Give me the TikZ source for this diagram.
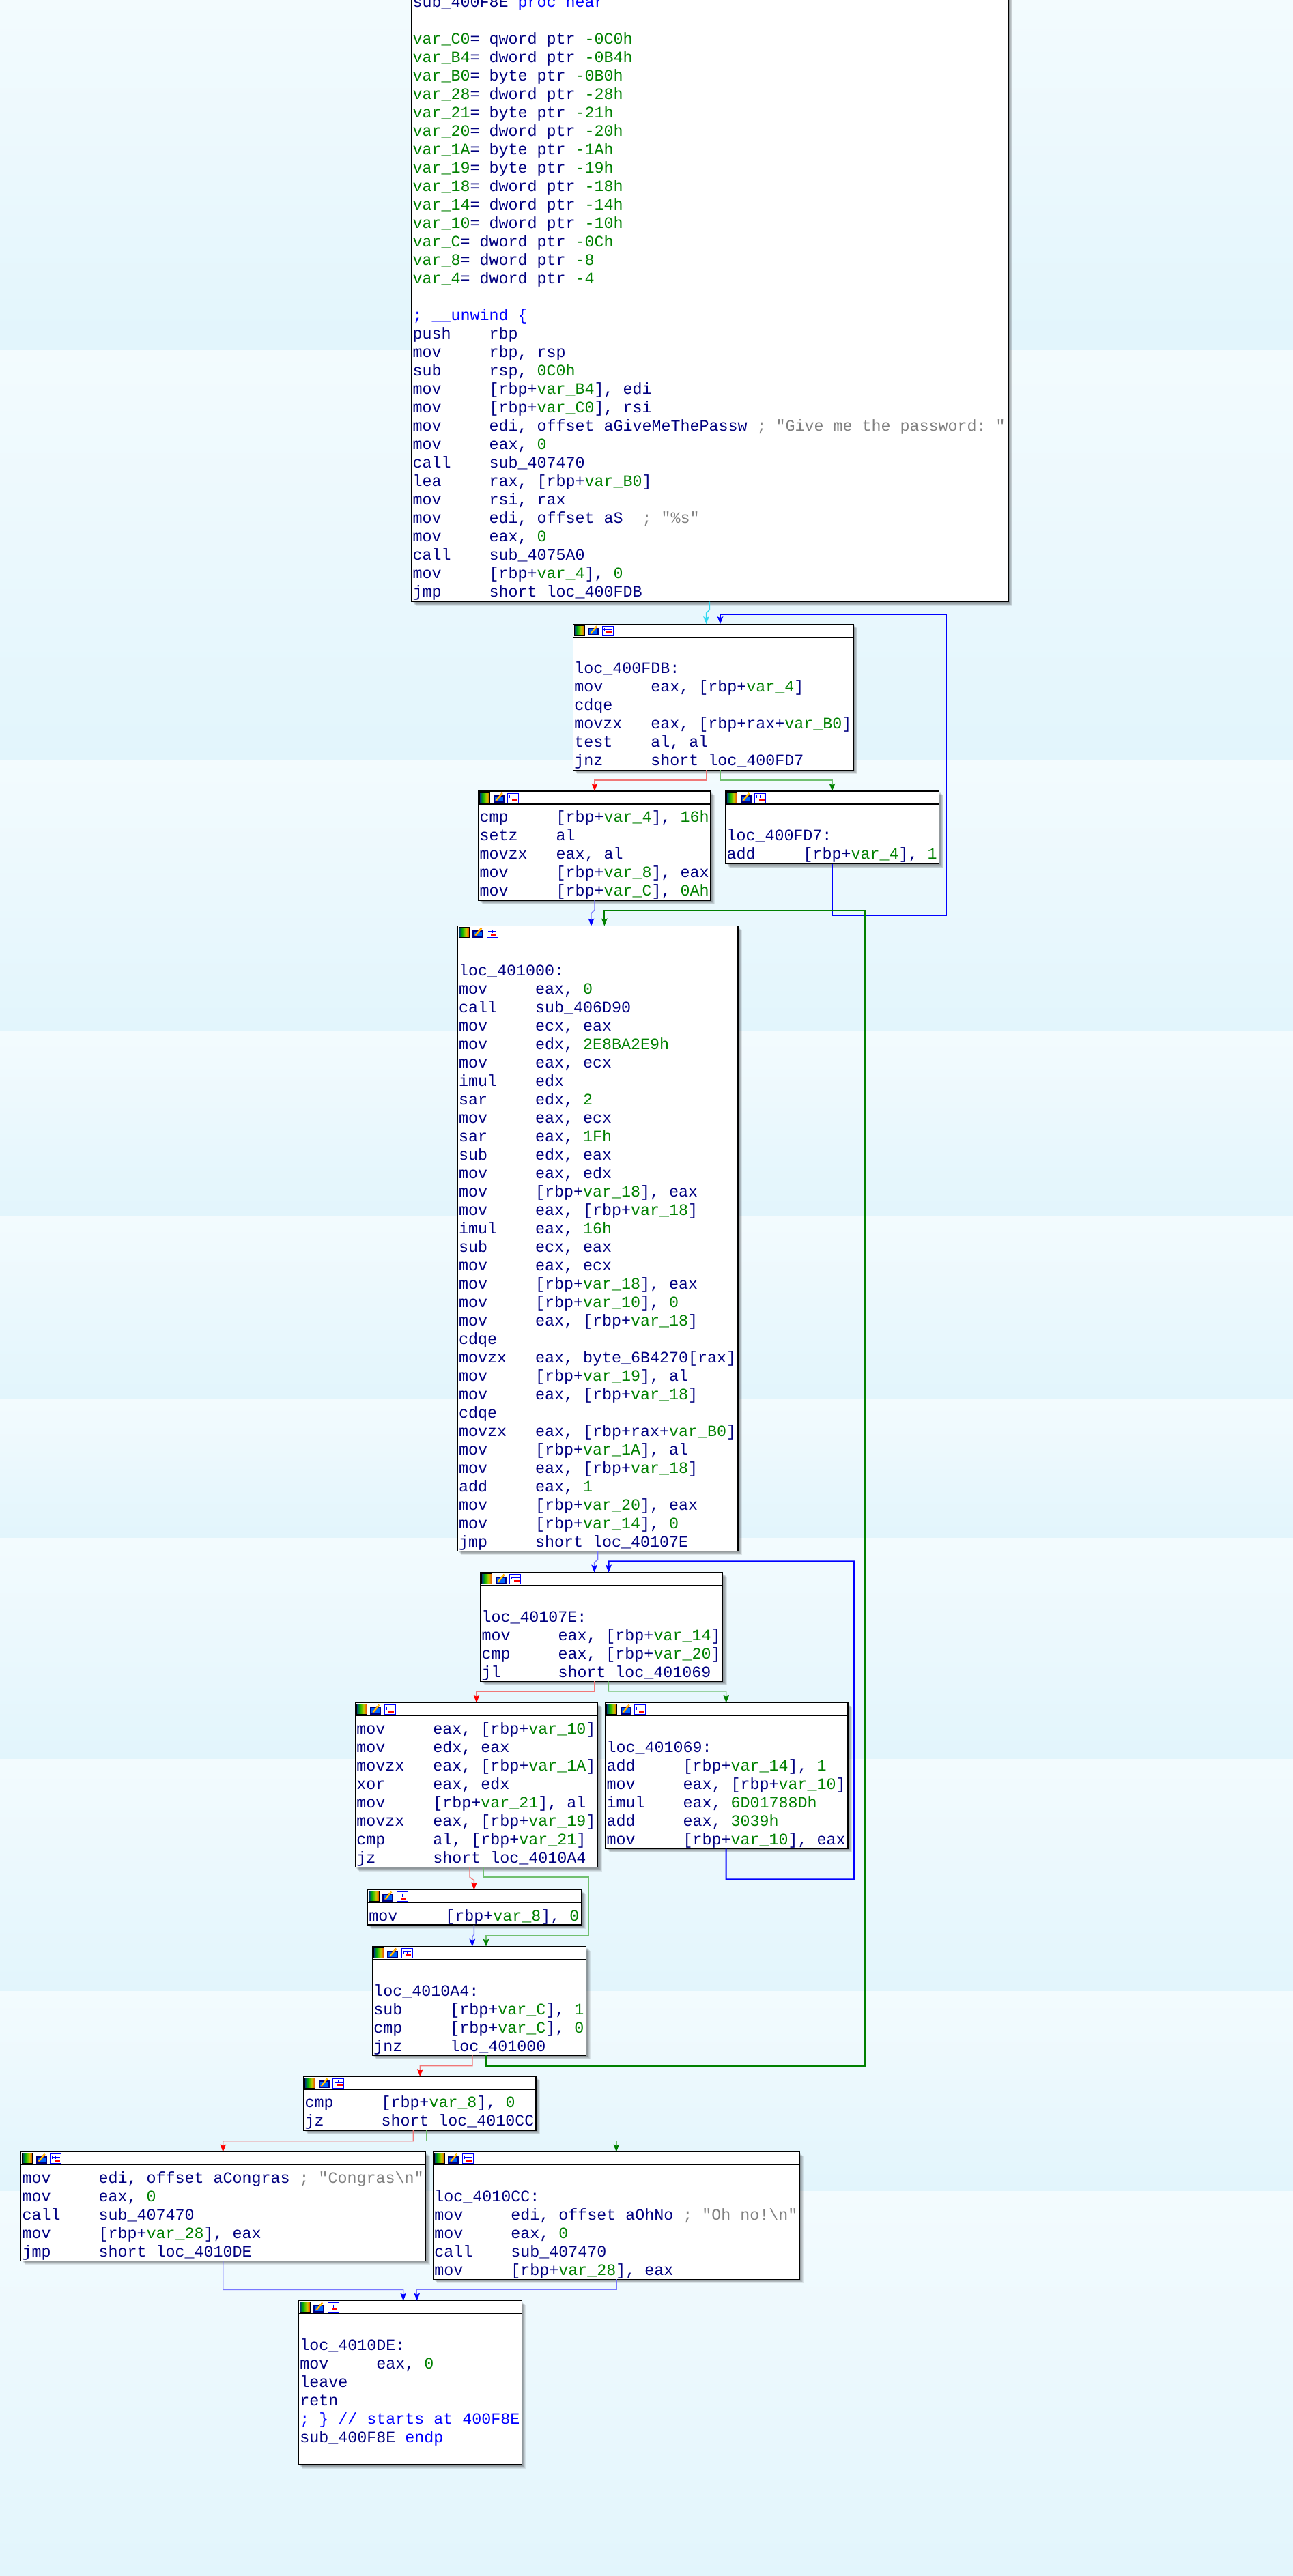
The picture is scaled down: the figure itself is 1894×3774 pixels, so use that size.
\documentclass[tikz,border=0pt]{standalone}
\usepackage{fontspec}
\newfontfamily\code{Liberation Mono}
\usetikzlibrary{arrows.meta}
\definecolor{cnavy}{HTML}{000080}
\definecolor{cgreen}{HTML}{008000}
\definecolor{cgrey}{HTML}{808080}
\definecolor{cblue}{HTML}{0000FF}
\definecolor{lred}{HTML}{F07878}
\definecolor{lgreen}{HTML}{70C070}
\definecolor{lblue}{HTML}{7878FF}
\definecolor{ccyan}{HTML}{30D8F0}
\definecolor{bgtop}{HTML}{F3FBFE}
\definecolor{bgbot}{HTML}{E2F5FC}
\pgfdeclarehorizontalshading{rainbow}{100bp}{color(0bp)=(black); color(20bp)=(blue!70!black); color(40bp)=(green!70!black); color(60bp)=(yellow!80!black); color(80bp)=(red); color(100bp)=(magenta)}
\newcommand\cG[1]{\textcolor{cgreen}{#1}}
\newcommand\cY[1]{\textcolor{cgrey}{#1}}
\newcommand\cK[1]{\textcolor{cblue}{#1}}
\newcommand\cI[2]{\makebox[112pt][l]{#1}#2}
\newcommand\cL{\vrule height 22.5pt depth 4.5pt width 0pt\relax}
\newcommand\codefont{\code\fontsize{23.33}{27}\selectfont\frenchspacing\lineskiplimit=-100pt\relax\lineskip=0pt\relax}
\tikzset{
  box/.style={draw=black, line width=1.5pt, fill=white, anchor=north west, inner sep=0pt, outer sep=0pt},
  hdr/.style={draw=black, line width=1.2pt},
  codetext/.style={font={\codefont}, text=cnavy, align=left, inner sep=0pt, outer sep=0pt, anchor=north west},
  redE/.style={draw=lred, line width=1.4pt, -{Stealth[length=11pt,width=8.5pt,inset=2pt,color=red]}},
  greenE/.style={draw=lgreen, line width=1.4pt, -{Stealth[length=11pt,width=8.5pt,inset=2pt,color=cgreen]}},
  blueE/.style={draw=lblue, line width=1.4pt, -{Stealth[length=11pt,width=8.5pt,inset=2pt,color=cblue]}},
  cyanE/.style={draw=ccyan, line width=1.4pt, -{Stealth[length=11pt,width=8.5pt,inset=2pt,color=ccyan]}},
  blueT/.style={draw=cblue, line width=2pt, -{Stealth[length=11pt,width=8.5pt,inset=2pt,color=cblue]}},
  greenT/.style={draw=cgreen, line width=2pt, -{Stealth[length=11pt,width=8.5pt,inset=2pt,color=cgreen]}},
}
\newcommand\icons[2]{%
  \shade[shading=rainbow] (#1+2,#2+2) rectangle (#1+17,#2+17);
  \draw[black,line width=1pt] (#1+2,#2+2) rectangle (#1+17,#2+17);
  \fill[cnavy] (#1+22,#2+6) rectangle (#1+38,#2+17);
  \fill[cblue!60!cyan] (#1+24,#2+8) rectangle (#1+36,#2+15);
  \draw[line width=2.6pt,orange] (#1+26,#2+14) -- (#1+35,#2+3);
  \draw[line width=1pt,yellow] (#1+26.5,#2+13) -- (#1+35,#2+3);
  \filldraw[fill=white,draw=cblue,line width=1pt] (#1+43,#2+3) rectangle (#1+59,#2+17);
  \draw[cblue,line width=1pt] (#1+45,#2+8) -- (#1+57,#2+8) (#1+46,#2+6) -- (#1+46,#2+10) (#1+51,#2+6) -- (#1+51,#2+10);
  \fill[red] (#1+49,#2+11) rectangle (#1+57,#2+14);
}
\newcommand\blk[6]{%
  \foreach \sh in {2,3,4,5,6} \fill[black,opacity=.09] (#2+\sh,#3+\sh) rectangle (#2+#4+\sh,#3+#5+\sh);
  \node[box, minimum width=#4pt, minimum height=#5pt] (#1) at (#2,#3) {};
  \draw[hdr] (#2,#3+19) -- (#2+#4,#3+19);
  \icons{#2}{#3}
  \node[codetext] (#1t) at (#2+2,#3+23) {#6};
}
\begin{document}
\begin{tikzpicture}[x=1pt,y=-1pt]
\useasboundingbox (0,0) rectangle (1894,3774);
\fill[bgbot] (0,0) rectangle (1894,3774);
\foreach \a/\b in {0/513,513/1113,1113/1510,1510/1782,1782/2050,2050/2253,2253/2577,2577/2917,2917/3210,3210/3774}
  \shade[top color=bgtop,bottom color=bgbot] (0,\a) rectangle (1894,\b);

\blk{T}{602.6}{-62}{874.4}{943.5}{\cL\\
\cL sub\_400F8E \cK{proc near}\\
\cL\\
\cL\cG{var\_C0}= qword ptr \cG{-0C0h}\\
\cL\cG{var\_B4}= dword ptr \cG{-0B4h}\\
\cL\cG{var\_B0}= byte ptr \cG{-0B0h}\\
\cL\cG{var\_28}= dword ptr \cG{-28h}\\
\cL\cG{var\_21}= byte ptr \cG{-21h}\\
\cL\cG{var\_20}= dword ptr \cG{-20h}\\
\cL\cG{var\_1A}= byte ptr \cG{-1Ah}\\
\cL\cG{var\_19}= byte ptr \cG{-19h}\\
\cL\cG{var\_18}= dword ptr \cG{-18h}\\
\cL\cG{var\_14}= dword ptr \cG{-14h}\\
\cL\cG{var\_10}= dword ptr \cG{-10h}\\
\cL\cG{var\_C}= dword ptr \cG{-0Ch}\\
\cL\cG{var\_8}= dword ptr \cG{-8}\\
\cL\cG{var\_4}= dword ptr \cG{-4}\\
\cL\\
\cL\cK{; \_\_unwind \{}\\
\cL\cI{push}{rbp}\\
\cL\cI{mov}{rbp, rsp}\\
\cL\cI{sub}{rsp, \cG{0C0h}}\\
\cL\cI{mov}{[rbp+\cG{var\_B4}], edi}\\
\cL\cI{mov}{[rbp+\cG{var\_C0}], rsi}\\
\cL\cI{mov}{edi, offset aGiveMeThePassw \cY{; "Give me the password: "}}\\
\cL\cI{mov}{eax, \cG{0}}\\
\cL\cI{call}{sub\_407470}\\
\cL\cI{lea}{rax, [rbp+\cG{var\_B0}]}\\
\cL\cI{mov}{rsi, rax}\\
\cL\cI{mov}{edi, offset aS\ \ \cY{; "\%s"}}\\
\cL\cI{mov}{eax, \cG{0}}\\
\cL\cI{call}{sub\_4075A0}\\
\cL\cI{mov}{[rbp+\cG{var\_4}], \cG{0}}\\
\cL\cI{jmp}{short loc\_400FDB}}

\blk{B1}{839.3}{914.3}{410.7}{214}{\cL\\
\cL loc\_400FDB:\\
\cL\cI{mov}{eax, [rbp+\cG{var\_4}]}\\
\cL\cI{cdqe}{}\\
\cL\cI{movzx}{eax, [rbp+rax+\cG{var\_B0}]}\\
\cL\cI{test}{al, al}\\
\cL\cI{jnz}{short loc\_400FD7}}

\blk{B2}{700.7}{1159}{340.3}{160}{\cL\cI{cmp}{[rbp+\cG{var\_4}], \cG{16h}}\\
\cL\cI{setz}{al}\\
\cL\cI{movzx}{eax, al}\\
\cL\cI{mov}{[rbp+\cG{var\_8}], eax}\\
\cL\cI{mov}{[rbp+\cG{var\_C}], \cG{0Ah}}}

\blk{B3}{1062.5}{1159}{313.1}{106.7}{\cL\\
\cL loc\_400FD7:\\
\cL\cI{add}{[rbp+\cG{var\_4}], \cG{1}}}

\blk{B4}{670.2}{1356.7}{410.8}{915.6}{\cL\\
\cL loc\_401000:\\
\cL\cI{mov}{eax, \cG{0}}\\
\cL\cI{call}{sub\_406D90}\\
\cL\cI{mov}{ecx, eax}\\
\cL\cI{mov}{edx, \cG{2E8BA2E9h}}\\
\cL\cI{mov}{eax, ecx}\\
\cL\cI{imul}{edx}\\
\cL\cI{sar}{edx, \cG{2}}\\
\cL\cI{mov}{eax, ecx}\\
\cL\cI{sar}{eax, \cG{1Fh}}\\
\cL\cI{sub}{edx, eax}\\
\cL\cI{mov}{eax, edx}\\
\cL\cI{mov}{[rbp+\cG{var\_18}], eax}\\
\cL\cI{mov}{eax, [rbp+\cG{var\_18}]}\\
\cL\cI{imul}{eax, \cG{16h}}\\
\cL\cI{sub}{ecx, eax}\\
\cL\cI{mov}{eax, ecx}\\
\cL\cI{mov}{[rbp+\cG{var\_18}], eax}\\
\cL\cI{mov}{[rbp+\cG{var\_10}], \cG{0}}\\
\cL\cI{mov}{eax, [rbp+\cG{var\_18}]}\\
\cL\cI{cdqe}{}\\
\cL\cI{movzx}{eax, byte\_6B4270[rax]}\\
\cL\cI{mov}{[rbp+\cG{var\_19}], al}\\
\cL\cI{mov}{eax, [rbp+\cG{var\_18}]}\\
\cL\cI{cdqe}{}\\
\cL\cI{movzx}{eax, [rbp+rax+\cG{var\_B0}]}\\
\cL\cI{mov}{[rbp+\cG{var\_1A}], al}\\
\cL\cI{mov}{eax, [rbp+\cG{var\_18}]}\\
\cL\cI{add}{eax, \cG{1}}\\
\cL\cI{mov}{[rbp+\cG{var\_20}], eax}\\
\cL\cI{mov}{[rbp+\cG{var\_14}], \cG{0}}\\
\cL\cI{jmp}{short loc\_40107E}}

\blk{B5}{703.5}{2303.7}{355.2}{159.6}{\cL\\
\cL loc\_40107E:\\
\cL\cI{mov}{eax, [rbp+\cG{var\_14}]}\\
\cL\cI{cmp}{eax, [rbp+\cG{var\_20}]}\\
\cL\cI{jl}{short loc\_401069}}

\blk{B6}{520.4}{2494.7}{355.2}{241}{\cL\cI{mov}{eax, [rbp+\cG{var\_10}]}\\
\cL\cI{mov}{edx, eax}\\
\cL\cI{movzx}{eax, [rbp+\cG{var\_1A}]}\\
\cL\cI{xor}{eax, edx}\\
\cL\cI{mov}{[rbp+\cG{var\_21}], al}\\
\cL\cI{movzx}{eax, [rbp+\cG{var\_19}]}\\
\cL\cI{cmp}{al, [rbp+\cG{var\_21}]}\\
\cL\cI{jz}{short loc\_4010A4}}

\blk{B7}{886.6}{2494.7}{355.2}{213.6}{\cL\\
\cL loc\_401069:\\
\cL\cI{add}{[rbp+\cG{var\_14}], \cG{1}}\\
\cL\cI{mov}{eax, [rbp+\cG{var\_10}]}\\
\cL\cI{imul}{eax, \cG{6D01788Dh}}\\
\cL\cI{add}{eax, \cG{3039h}}\\
\cL\cI{mov}{[rbp+\cG{var\_10}], eax}}

\blk{B8}{538.3}{2768.7}{313.2}{51.3}{\cL\cI{mov}{[rbp+\cG{var\_8}], \cG{0}}}

\blk{B9}{545.4}{2851.7}{313.3}{159.3}{\cL\\
\cL loc\_4010A4:\\
\cL\cI{sub}{[rbp+\cG{var\_C}], \cG{1}}\\
\cL\cI{cmp}{[rbp+\cG{var\_C}], \cG{0}}\\
\cL\cI{jnz}{loc\_401000}}

\blk{B10}{444.5}{3042.3}{340.5}{78.7}{\cL\cI{cmp}{[rbp+\cG{var\_8}], \cG{0}}\\
\cL\cI{jz}{short loc\_4010CC}}

\blk{B11}{30.6}{3152.7}{593}{159.6}{\cL\cI{mov}{edi, offset aCongras \cY{; "Congras\textbackslash n"}}\\
\cL\cI{mov}{eax, \cG{0}}\\
\cL\cI{call}{sub\_407470}\\
\cL\cI{mov}{[rbp+\cG{var\_28}], eax}\\
\cL\cI{jmp}{short loc\_4010DE}}

\blk{B12}{634.3}{3152.7}{537.1}{186.6}{\cL\\
\cL loc\_4010CC:\\
\cL\cI{mov}{edi, offset aOhNo \cY{; "Oh no!\textbackslash n"}}\\
\cL\cI{mov}{eax, \cG{0}}\\
\cL\cI{call}{sub\_407470}\\
\cL\cI{mov}{[rbp+\cG{var\_28}], eax}}

\blk{B13}{437.3}{3370.7}{327}{240}{\cL\\
\cL loc\_4010DE:\\
\cL\cI{mov}{eax, \cG{0}}\\
\cL\cI{leave}{}\\
\cL\cI{retn}{}\\
\cL\cK{; \} // starts at 400F8E}\\
\cL sub\_400F8E \cK{endp}\\
\cL}

% connectors
\draw[cyanE] ([xshift=436.9pt]T.south west) -- (1039.5,893) -- (1034.5,898) -- ([xshift=195.2pt]B1.north west);
\draw[blueT] ([xshift=156.5pt]B3.south west) -- (1219,1340.6) -- (1386,1340.6) -- (1386,900) -- (1055,900) -- ([xshift=215.7pt]B1.north west);
\draw[redE] ([xshift=195.7pt]B1.south west) -- (1035,1143) -- (871,1143) -- ([xshift=170.3pt]B2.north west);
\draw[greenE] ([xshift=215.7pt]B1.south west) -- (1055,1143) -- (1219,1143) -- ([xshift=156.5pt]B3.north west);
\draw[blueE] ([xshift=170.3pt]B2.south west) -- (871,1333) -- (866,1338) -- ([xshift=195.8pt]B4.north west);
\draw[greenT] ([xshift=166.3pt]B9.south west) -- (711.7,3026.7) -- (1267,3026.7) -- (1267,1334) -- (885.3,1334) -- ([xshift=215.1pt]B4.north west);
\draw[blueE] ([xshift=205.4pt]B4.south west) -- (875.6,2285) -- (870.6,2289) -- ([xshift=167.1pt]B5.north west);
\draw[blueT] ([xshift=177.1pt]B7.south west) -- (1063.7,2753.3) -- (1251,2753.3) -- (1251,2287.3) -- (891.5,2287.3) -- ([xshift=188pt]B5.north west);
\draw[redE] ([xshift=167.5pt]B5.south west) -- (871,2478) -- (698,2478) -- ([xshift=177.6pt]B6.north west);
\draw[greenE] ([xshift=188pt]B5.south west) -- (891.5,2478) -- (1063.7,2478) -- ([xshift=177.1pt]B7.north west);
\draw[redE] ([xshift=167.6pt]B6.south west) -- (688,2750) -- (694.4,2755) -- ([xshift=156.1pt]B8.north west);
\draw[greenE] ([xshift=187.6pt]B6.south west) -- (708,2750) -- (862,2750) -- (862,2836) -- (712,2836) -- ([xshift=166.6pt]B9.north west);
\draw[blueE] ([xshift=156.1pt]B8.south west) -- (694.4,2834) -- (691.8,2838) -- ([xshift=146.4pt]B9.north west);
\draw[redE] ([xshift=146.4pt]B9.south west) -- (691.8,3026.7) -- (615.3,3026.7) -- ([xshift=170.8pt]B10.north west);
\draw[redE] ([xshift=160.7pt]B10.south west) -- (605.2,3136.7) -- (326.7,3136.7) -- ([xshift=296.1pt]B11.north west);
\draw[greenE] ([xshift=180.5pt]B10.south west) -- (625,3136.7) -- (902.8,3136.7) -- ([xshift=268.5pt]B12.north west);
\draw[blueE] ([xshift=296.1pt]B11.south west) -- (326.7,3354.3) -- (590.7,3354.3) -- ([xshift=153.4pt]B13.north west);
\draw[blueE] ([xshift=268.5pt]B12.south west) -- (902.8,3354.3) -- (610.7,3354.3) -- ([xshift=173.4pt]B13.north west);
\end{tikzpicture}
\end{document}
